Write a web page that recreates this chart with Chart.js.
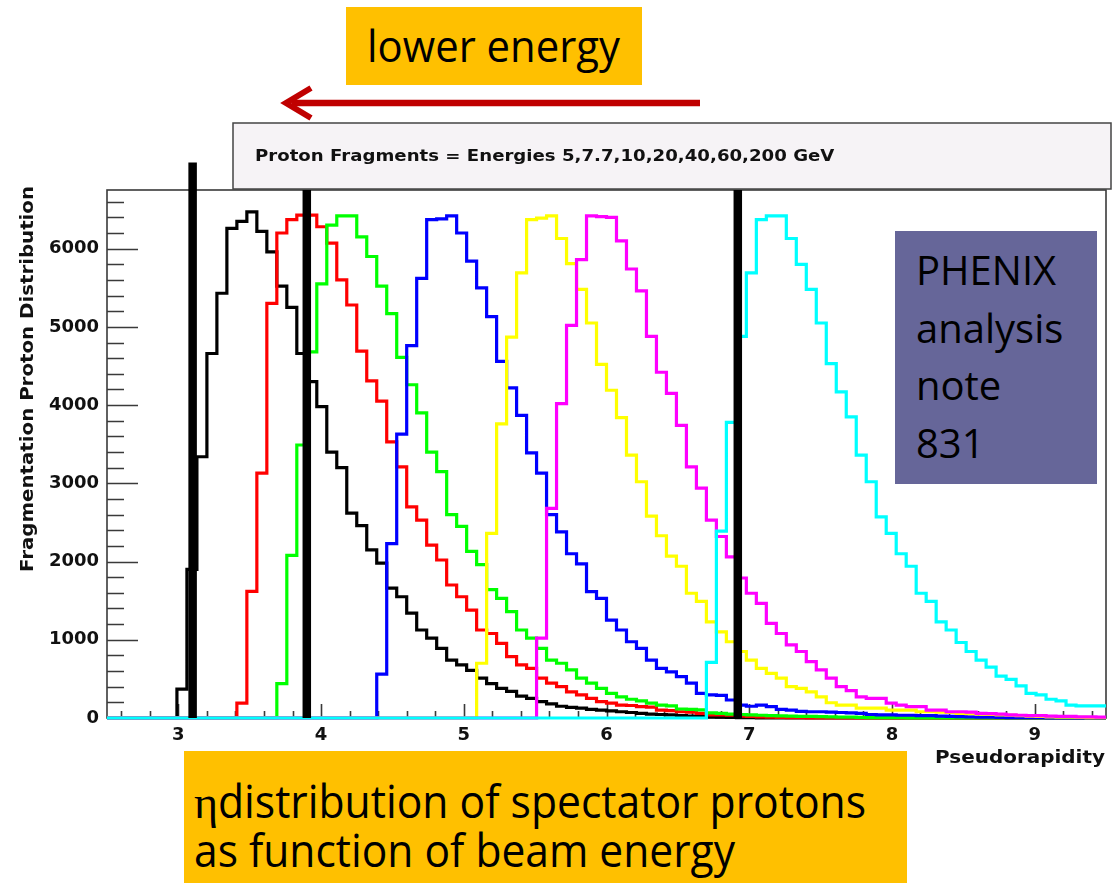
<!DOCTYPE html>
<html>
<head>
<meta charset="utf-8">
<title>Proton fragments - pseudorapidity</title>
<script src="https://cdn.jsdelivr.net/npm/chart.js@4.4.1/dist/chart.umd.min.js"></script>
<style>
  html, body { margin: 0; padding: 0; background: #fff; }
  #wrap { position: relative; width: 1113px; height: 883px; overflow: hidden; }
  #chart { position: absolute; left: 0; top: 0; }
  #notes { position: absolute; left: 0; top: 0; pointer-events: none; }
</style>
</head>
<body>
<div id="wrap">
  <canvas id="chart" width="1113" height="883"></canvas>
  <svg id="notes" width="1113" height="883" xmlns="http://www.w3.org/2000/svg">
    <rect x="346" y="7" width="296" height="78" fill="#ffc000"/>
    <text x="367" y="62" font-family="Open Sans" font-size="43" fill="#000" textLength="253" lengthAdjust="spacingAndGlyphs">lower energy</text>
    <line x1="700" y1="103" x2="292" y2="103" stroke="#c00000" stroke-width="6.5"/>
    <polyline points="311,88 286,103 311,118" fill="none" stroke="#c00000" stroke-width="6"/>
    <rect x="895" y="231" width="202" height="253" fill="#666699"/>
    <text font-family="Open Sans" font-size="40" fill="#000">
      <tspan x="916" y="285">PHENIX</tspan>
      <tspan x="916" y="343">analysis</tspan>
      <tspan x="916" y="400">note</tspan>
      <tspan x="916" y="458">831</tspan>
    </text>
    <rect x="184" y="751" width="723" height="132" fill="#ffc000"/>
    <text x="194" y="818" font-family="Liberation Serif" font-size="46" fill="#000">η</text>
    <text x="218" y="818" font-family="Open Sans" font-size="46" fill="#000" textLength="648" lengthAdjust="spacingAndGlyphs">distribution of spectator protons</text>
    <text x="194" y="867" font-family="Open Sans" font-size="46" fill="#000" textLength="541" lengthAdjust="spacingAndGlyphs">as function of beam energy</text>
  </svg>
</div>
<script>
// histogram binning (100 bins from 2.5 to 9.5)
const binLow = 2.5;
const binWidth = 0.07;
const nBins = 100;

// bin contents, starting at the first non-empty bin
const blackFirst = 7;
const black = [370, 1900, 3340, 4660, 5430, 6260, 6350, 6470, 6220, 5960,
  5520, 5250, 4660, 4300, 3980, 3400, 3200, 2620, 2460, 2150,
  1980, 1660, 1550, 1340, 1125, 1020, 890, 740, 680, 610,
  510, 440, 380, 340, 280, 250, 210, 180, 150, 135,
  125, 110, 100, 90, 80, 70, 60, 50, 45, 40,
  30, 25, 20, 15, 10, 8, 5, 3, 2];

const redFirst = 13;
const red = [190, 1620, 3130, 5300, 6200, 6370, 6430, 6430, 6280, 6070,
  5600, 5280, 4690, 4310, 4050, 3530, 3210, 2700, 2530, 2210,
  2020, 1700, 1550, 1380, 1125, 1080, 955, 785, 680, 635,
  510, 445, 400, 335, 295, 250, 210, 190, 165, 160,
  145, 140, 100, 95, 80, 75, 60, 40, 40, 35,
  25, 20, 15, 10, 8, 5, 3, 2];

const greenFirst = 17;
const green = [440, 2080, 3490, 4680, 5550, 6300, 6420, 6420, 6150, 5900,
  5520, 5170, 4610, 4260, 3900, 3400, 3150, 2600, 2450, 2130,
  1960, 1640, 1530, 1360, 1125, 1020, 890, 740, 700, 615,
  510, 445, 380, 315, 270, 240, 220, 190, 165, 155,
  115, 110, 105, 65, 60, 50, 45, 40, 35, 30,
  28, 25, 22, 20, 18, 15, 12, 10, 8, 6,
  5, 4, 3, 2];

const blueFirst = 27;
const blue = [560, 2230, 3630, 4760, 5620, 6370, 6380, 6420, 6200, 5840,
  5500, 5130, 4560, 4220, 3870, 3390, 3130, 2600, 2380, 2100,
  1970, 1615, 1530, 1250, 1125, 975, 890, 740, 635, 590,
  530, 445, 315, 295, 290, 230, 165, 150, 165, 145,
  110, 100, 85, 80, 80, 75, 70, 65, 60, 45,
  40, 40, 35, 35, 30, 30, 25, 20, 18, 15,
  12, 10, 8, 6, 5, 4, 3, 2];

const yellowFirst = 37;
const yellow = [700, 2360, 3760, 4870, 5690, 6370, 6390, 6420, 6130, 5810,
  5480, 5050, 4520, 4190, 3840, 3360, 3020, 2580, 2330, 2070,
  1940, 1595, 1490, 1230, 1100, 975, 850, 740, 635, 570,
  510, 400, 380, 335, 270, 195, 165, 165, 125, 125,
  125, 100, 100, 100, 80, 80, 75, 70, 60, 55,
  50, 45, 40, 35, 30, 25, 20, 15, 12, 10,
  8, 5, 4];

const magentaFirst = 43;
const magenta = [1020, 2680, 4020, 5020, 5860, 6420, 6410, 6400, 6100, 5740,
  5460, 4880, 4420, 4150, 3740, 3210, 2940, 2530, 2320, 2060,
  1790, 1595, 1465, 1210, 1080, 935, 850, 720, 615, 510,
  400, 350, 270, 250, 250, 190, 165, 145, 145, 100,
  100, 80, 80, 75, 60, 55, 50, 40, 35, 30,
  30, 25, 20, 20, 15, 15, 12];

const cyanFirst = 60;
const cyan = [710, 2390, 3780, 4880, 5690, 6370, 6420, 6420, 6130, 5800,
  5480, 5050, 4530, 4170, 3850, 3360, 3020, 2570, 2360, 2100,
  1940, 1595, 1490, 1230, 1125, 965, 850, 740, 650, 535,
  495, 410, 315, 295, 240, 220, 165, 155, 155, 155];

// hand-drawn eta cut lines (pseudorapidity, top of line in counts)
const etaCuts = [3.1, 3.9, 6.92];
const cutTops = [7100, 6750, 6750];

// axes
const xMin = 2.5, xMax = 9.5;
const yMin = 0, yMax = 6750;
const xTickLabels = [3, 4, 5, 6, 7, 8, 9];
const yTickLabels = [0, 1000, 2000, 3000, 4000, 5000, 6000];

const titleText = "Proton Fragments = Energies 5,7.7,10,20,40,60,200 GeV";
const xTitle = "Pseudorapidity";
const yTitle = "Fragmentation Proton Distribution";

function histPoints(first, counts) {
  const pts = [];
  for (let k = 0; k < nBins; k++) {
    const i = k - first;
    pts.push({ x: binLow + k * binWidth, y: (i >= 0 && i < counts.length) ? counts[i] : 0 });
  }
  pts.push({ x: binLow + nBins * binWidth, y: pts[nBins - 1].y });
  return pts;
}

function histDataset(label, color, first, counts, order) {
  return {
    label: label,
    data: histPoints(first, counts),
    borderColor: color,
    borderWidth: 3.2,
    stepped: 'before',
    fill: false,
    pointRadius: 0,
    borderJoinStyle: 'miter',
    clip: false,
    order: order
  };
}

const datasets = [
  histDataset('5 GeV', '#000000', blackFirst, black, 8),
  histDataset('7.7 GeV', '#ff0000', redFirst, red, 7),
  histDataset('10 GeV', '#00ff00', greenFirst, green, 6),
  histDataset('20 GeV', '#0000ff', blueFirst, blue, 5),
  histDataset('40 GeV', '#ffff00', yellowFirst, yellow, 4),
  histDataset('60 GeV', '#ff00ff', magentaFirst, magenta, 3),
  histDataset('200 GeV', '#00ffff', cyanFirst, cyan, 2)
];
etaCuts.forEach((eta, i) => {
  datasets.push({
    label: 'cut ' + eta,
    data: [{ x: eta, y: 0 }, { x: eta, y: cutTops[i] }],
    borderColor: '#000000',
    borderWidth: 8.5,
    pointRadius: 0,
    fill: false,
    clip: false,
    order: 0
  });
});

// ROOT style frame, inside ticks, title box and axis titles
const rootFrame = {
  id: 'rootFrame',
  beforeDatasetsDraw(chart) {
    const { ctx, chartArea: a, scales: { x, y } } = chart;
    ctx.save();
    ctx.strokeStyle = '#3a3a3a';
    ctx.lineWidth = 1.6;
    ctx.strokeRect(a.left, a.top, a.right - a.left, a.bottom - a.top);
    ctx.beginPath();
    for (let v = 0; v <= yMax; v += 200) {
      const py = Math.round(y.getPixelForValue(v)) + 0.5;
      const len = v % 1000 === 0 ? 31 : 17;
      ctx.moveTo(a.left, py);
      ctx.lineTo(a.left + len, py);
    }
    for (let i = Math.ceil(xMin * 5); i <= Math.floor(xMax * 5); i++) {
      const px = Math.round(x.getPixelForValue(i / 5)) + 0.5;
      const len = i % 5 === 0 ? 14 : 7;
      ctx.moveTo(px, a.bottom);
      ctx.lineTo(px, a.bottom - len);
    }
    ctx.stroke();
    ctx.restore();
  },
  afterDraw(chart) {
    const { ctx } = chart;
    ctx.save();
    // title pave
    ctx.fillStyle = '#f6f3f6';
    ctx.fillRect(233, 123, 878, 66);
    ctx.strokeStyle = '#444';
    ctx.lineWidth = 1.5;
    ctx.strokeRect(233, 123, 878, 66);
    ctx.fillStyle = '#111';
    ctx.font = 'bold 15.5px "DejaVu Sans"';
    ctx.textBaseline = 'alphabetic';
    ctx.translate(255, 161);
    ctx.scale(1.17, 1);
    ctx.textAlign = 'left';
    ctx.fillText(titleText, 0, 0);
    ctx.restore();

    ctx.save();
    ctx.fillStyle = '#111';
    ctx.font = 'bold 17.5px "DejaVu Sans"';
    ctx.translate(1105, 763);
    ctx.scale(1.14, 1);
    ctx.textAlign = 'right';
    ctx.fillText(xTitle, 0, 0);
    ctx.restore();

    ctx.save();
    ctx.fillStyle = '#111';
    ctx.font = 'bold 17.5px "DejaVu Sans"';
    ctx.translate(33, 379);
    ctx.rotate(-Math.PI / 2);
    ctx.scale(1.13, 1);
    ctx.textAlign = 'center';
    ctx.fillText(yTitle, 0, 0);
    ctx.restore();
  }
};

const tickFont = { family: 'DejaVu Sans', size: 18, weight: 'bold' };

new Chart(document.getElementById('chart'), {
  type: 'line',
  data: { datasets: datasets },
  options: {
    responsive: false,
    animation: false,
    devicePixelRatio: 1,
    layout: { padding: { top: 190, right: 7, left: 0, bottom: 0 } },
    plugins: { legend: { display: false }, tooltip: { enabled: false } },
    scales: {
      x: {
        type: 'linear',
        min: xMin,
        max: xMax,
        grid: { display: false, drawTicks: false },
        border: { display: false },
        ticks: { font: tickFont, color: '#111', padding: 7, autoSkip: false, maxRotation: 0, callback: v => String(v) },
        afterBuildTicks: axis => { axis.ticks = xTickLabels.map(v => ({ value: v })); },
        afterFit: axis => { axis.height = 165; }
      },
      y: {
        type: 'linear',
        min: yMin,
        max: yMax,
        grid: { display: false, drawTicks: false },
        border: { display: false },
        ticks: { font: tickFont, color: '#111', padding: 8, autoSkip: false, callback: v => String(v) },
        afterBuildTicks: axis => { axis.ticks = yTickLabels.map(v => ({ value: v })); },
        afterFit: axis => { axis.width = 107; }
      }
    }
  },
  plugins: [rootFrame]
});
</script>
</body>
</html>
